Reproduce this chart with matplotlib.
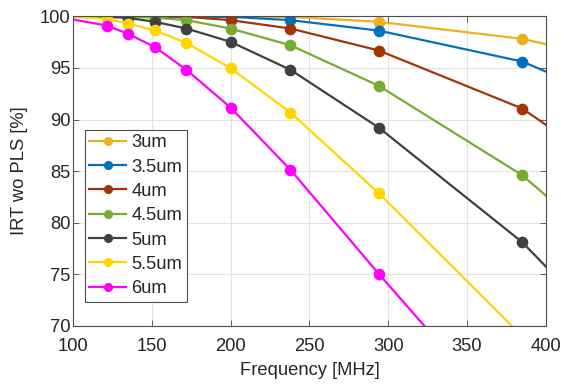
import matplotlib
matplotlib.use("Agg")
import matplotlib.pyplot as plt

plt.rcParams['font.family'] = ['Liberation Sans', 'DejaVu Sans']

# Frequencies of the measured points [MHz]; the curves are extended to the axis limits
freq_pts = [121.5, 135, 152, 172, 200, 238, 294, 385]
freq_ends = [100, 400]

labels = ['3um', '3.5um', '4um', '4.5um', '5um', '5.5um', '6um']
colors = ['#EDB120', '#0072BD', '#A2340A', '#77AC30', '#404040', '#FFD600', '#FF00FF']

# IRT without PLS [%] at freq_pts
irt_3 = [100.0, 100.0, 100.0, 99.98, 99.97, 99.95, 99.47, 97.82]
irt_35 = [100.0, 100.0, 99.99, 99.97, 99.95, 99.63, 98.62, 95.62]
irt_4 = [100.0, 99.99, 99.98, 99.95, 99.63, 98.82, 96.69, 91.07]
irt_45 = [99.99, 99.97, 99.88, 99.63, 98.82, 97.20, 93.27, 84.61]
irt_5 = [99.95, 99.85, 99.47, 98.82, 97.53, 94.82, 89.22, 78.12]
irt_55 = [99.76, 99.30, 98.63, 97.43, 94.98, 90.68, 82.87, 69.00]
irt_6 = [99.11, 98.30, 97.02, 94.82, 91.16, 85.13, 75.05, 59.20]

# Curve values at the axis limits (100 MHz, 400 MHz)
end_3 = [100.0, 97.31]
end_35 = [100.0, 94.65]
end_4 = [100.0, 89.49]
end_45 = [100.0, 82.64]
end_5 = [100.0, 75.76]
end_55 = [99.95, 66.80]
end_6 = [99.69, 56.50]

series = [irt_3, irt_35, irt_4, irt_45, irt_5, irt_55, irt_6]
ends = [end_3, end_35, end_4, end_45, end_5, end_55, end_6]

fig = plt.figure(figsize=(5.61, 3.89), dpi=100)
ax = fig.add_axes([0.130, 0.162, 0.843, 0.796])

text_c = '#262626'
fs = 13.2
for lab, col, ys, ye in zip(labels, colors, series, ends):
    x = [freq_ends[0]] + freq_pts + [freq_ends[1]]
    y = [ye[0]] + ys + [ye[1]]
    ax.plot(x, y, color=col, lw=1.6, marker='o', ms=7.4,
            markevery=list(range(1, len(x) - 1)), label=lab, clip_on=True)

ax.set_xlim(100, 400)
ax.set_ylim(70, 100)
ax.set_xticks(range(100, 401, 50))
ax.set_yticks(range(70, 101, 5))
ax.grid(True, color='#e3e3e3', lw=0.8)
ax.set_axisbelow(True)
ax.tick_params(direction='in', top=True, right=True, length=4, width=0.6,
               colors='#4d4d4d', labelcolor=text_c, labelsize=fs)
ax.tick_params(axis='y', pad=2)
ax.tick_params(axis='x', pad=9)
for s in ax.spines.values():
    s.set_color('#4d4d4d')
    s.set_linewidth(0.8)

ax.set_xlabel('Frequency [MHz]', fontsize=fs, color=text_c, labelpad=5)
ax.set_ylabel('IRT wo PLS [%]', fontsize=fs, color=text_c, labelpad=8)

leg = ax.legend(loc='lower left', bbox_to_anchor=(0.025, 0.078), fontsize=fs,
                frameon=True, fancybox=False, framealpha=1, edgecolor='#4d4d4d',
                handlelength=2.0, handletextpad=0.3, labelspacing=0.4,
                borderpad=0.25, borderaxespad=0.0, markerscale=0.75)
leg.get_frame().set_linewidth(0.8)
for t in leg.get_texts():
    t.set_color(text_c)

fig.savefig('out.png', dpi=100)
